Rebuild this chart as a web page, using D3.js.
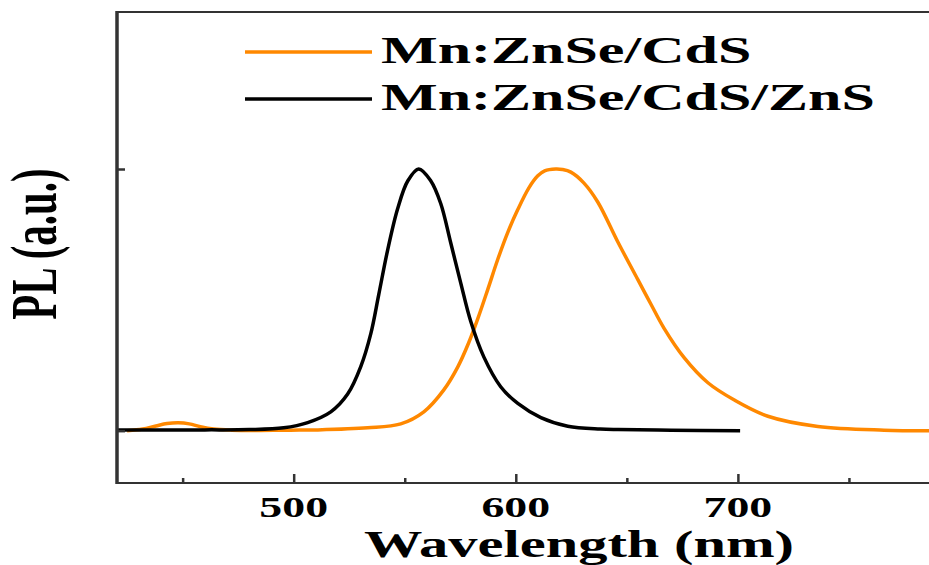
<!DOCTYPE html>
<html>
<head>
<meta charset="utf-8">
<script src="https://cdn.jsdelivr.net/npm/d3@7"></script>
<style>
  html, body { margin: 0; padding: 0; background: #fff; }
  svg { display: block; }
  text { font-family: "Liberation Serif", "Times New Roman", serif; font-weight: bold; fill: #000; }
</style>
</head>
<body>
<svg id="chart" width="929" height="565"></svg>
<script>
// ---- data ----
const blackWavelength = [420, 460, 480, 495.5, 506.3, 516.7, 524.3, 530.2, 534.7, 538.3, 542.3, 546.8, 551.4, 556.3, 561.7, 566.2, 570.7, 575.2, 579.7, 585.6, 593.2, 600.9, 611.3, 623.4, 638, 646, 670, 701];
const blackPL =         [0.003, 0.003, 0.004, 0.011, 0.031, 0.072, 0.140, 0.245, 0.370, 0.520, 0.690, 0.848, 0.955, 1.000, 0.955, 0.868, 0.718, 0.565, 0.418, 0.282, 0.168, 0.104, 0.050, 0.017, 0.006, 0.004, 0.002, 0.000];

const orangeWavelength = [425, 432, 438, 443, 448, 453, 458, 464, 472, 485, 498.6, 510.8, 533.3, 548.2, 558.6, 567.6, 573.9, 578.8, 582.9, 587.4, 591.9, 596.4, 600.9, 605.9, 609.9, 613, 618, 621, 624.8, 630.6, 636.9, 645.9, 654.9, 660.8, 666.7, 675.7, 686.5, 698.2, 713.5, 736, 765.8, 786.5];
const orangePL =         [0.000, 0.006, 0.018, 0.027, 0.030, 0.026, 0.015, 0.006, 0.002, 0.001, 0.002, 0.003, 0.011, 0.026, 0.072, 0.156, 0.244, 0.336, 0.428, 0.540, 0.655, 0.758, 0.845, 0.928, 0.974, 0.993, 1.000, 0.998, 0.988, 0.947, 0.874, 0.722, 0.578, 0.484, 0.392, 0.280, 0.183, 0.118, 0.055, 0.016, 0.002, 0.000];

const seriesNames = ["Mn:ZnSe/CdS", "Mn:ZnSe/CdS/ZnS"];
const seriesColors = ["#ff8800", "#000000"];
const xMajorTicks = [500, 600, 700];
const xMinorTicks = [450, 550, 650, 750];
const yTicks = [0, 1];
const xTitle = "Wavelength (nm)";
const yTitle = "PL (a.u.)";

// ---- layout ----
const svg = d3.select("#chart");
const plotLeft = 117, plotTop = 12, plotBottom = 483, plotRight = 929;
const stretch = 1.58;

const x = d3.scaleLinear().domain([420, 800]).range([116, 960]);
const y = d3.scaleLinear().domain([-0.2, 1.6]).range([plotBottom, plotTop]);

const line = d3.line()
  .x(d => x(d[0]))
  .y(d => y(d[1]))
  .curve(d3.curveCatmullRom.alpha(0.5));

const orangeData = orangeWavelength.map((w, i) => [w, orangePL[i]]);
const blackData = blackWavelength.map((w, i) => [w, blackPL[i]]);

// curves
svg.append("path").datum(orangeData).attr("d", line)
  .attr("fill", "none").attr("stroke", seriesColors[0]).attr("stroke-width", 3.5).attr("stroke-linejoin", "round");
svg.append("path").datum(blackData).attr("d", line)
  .attr("fill", "none").attr("stroke", seriesColors[1]).attr("stroke-width", 3.5).attr("stroke-linejoin", "round");

// frame
svg.append("line").attr("x1", plotLeft).attr("x2", plotRight).attr("y1", plotTop).attr("y2", plotTop)
  .attr("stroke", "#333").attr("stroke-width", 2);
svg.append("line").attr("x1", plotLeft).attr("x2", plotRight).attr("y1", plotBottom).attr("y2", plotBottom)
  .attr("stroke", "#333").attr("stroke-width", 2);
svg.append("line").attr("x1", plotLeft).attr("x2", plotLeft).attr("y1", plotTop - 1).attr("y2", plotBottom + 1)
  .attr("stroke", "#333").attr("stroke-width", 3.5);

// x axis ticks (inward)
const xAxis = d3.axisBottom(x).tickValues(xMajorTicks).tickSize(-9).tickPadding(0).tickFormat(d3.format("d"));
const gx = svg.append("g").attr("transform", `translate(0,${plotBottom})`).call(xAxis);
gx.select(".domain").remove();
gx.selectAll(".tick line").attr("stroke", "#333").attr("stroke-width", 2.5);
gx.selectAll(".tick text").remove();
const xMinor = d3.axisBottom(x).tickValues(xMinorTicks).tickSize(-5).tickFormat("");
const gxm = svg.append("g").attr("transform", `translate(0,${plotBottom})`).call(xMinor);
gxm.select(".domain").remove();
gxm.selectAll(".tick line").attr("stroke", "#333").attr("stroke-width", 2.5);

// x tick labels
svg.selectAll(".xlab").data(xMajorTicks).enter().append("text")
  .attr("class", "xlab")
  .attr("text-anchor", "middle")
  .attr("font-size", 29)
  .attr("transform", d => `translate(${x(d)},517) scale(${stretch},1)`)
  .text(d => d);

// y ticks (inward)
const yAxis = d3.axisLeft(y).tickValues(yTicks).tickSize(-8).tickFormat("");
const gy = svg.append("g").attr("transform", `translate(${plotLeft},0)`).call(yAxis);
gy.select(".domain").remove();
gy.selectAll(".tick line").attr("stroke", "#333").attr("stroke-width", 2.5);

// axis titles
svg.append("text")
  .attr("text-anchor", "middle")
  .attr("font-size", 37)
  .attr("transform", `translate(579,557) scale(${stretch},1)`)
  .text(xTitle);

svg.append("text")
  .attr("text-anchor", "middle")
  .attr("font-size", 41)
  .attr("transform", `translate(56,244) scale(${stretch},1) rotate(-90)`)
  .text(yTitle);

// legend
const legendRows = [52, 99];
seriesNames.forEach((name, i) => {
  svg.append("line")
    .attr("x1", 245).attr("x2", 372)
    .attr("y1", legendRows[i]).attr("y2", legendRows[i])
    .attr("stroke", seriesColors[i]).attr("stroke-width", 3.5);
  svg.append("text")
    .attr("font-size", 38)
    .attr("transform", `translate(381,${legendRows[i] + 11}) scale(${stretch},1)`)
    .text(name);
});
</script>
</body>
</html>
